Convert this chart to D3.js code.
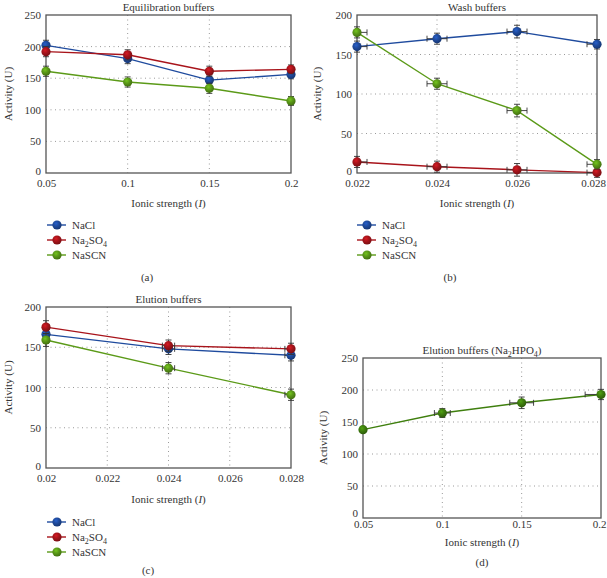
<!DOCTYPE html>
<meta charset="utf-8">
<style>
body { margin: 0; background: #fff; }
svg text { font-family: "Liberation Serif", "DejaVu Serif", serif; font-weight: normal; }
.tick line { display: none; }
.domain { display: none; }
.grid line { stroke: #9a9a9a; stroke-dasharray: 1,3.5; stroke-width: 1; }
</style>
<body>
<svg width="607" height="578"></svg>
<script src="https://d3js.org/d3.v7.min.js"></script>
<script>
// ---- data ----
var seriesNames = ["NaCl", "Na2SO4", "NaSCN"];

// (a) equilibration buffers
var eqX = [0.05, 0.1, 0.15, 0.2];
var eqNaCl = [202, 181, 147, 156];
var eqNa2SO4 = [192, 187, 161, 164];
var eqNaSCN = [161, 144, 134, 114];
var eqErr = [8, 8, 8, 7];
var eqXTicks = ["0.05", "0.1", "0.15", "0.2"];

// (b) wash buffers
var washX = [0.022, 0.024, 0.026, 0.028];
var washNaCl = [160, 170, 179, 163];
var washNa2SO4 = [14, 8, 4, 0.5];
var washNaSCN = [178, 113, 79, 11];
var washErr = [7, 7, 8, 6];
var washXErr = [0.00025, 0.00025, 0.00025, 0.00025];
var washXTicks = ["0.022", "0.024", "0.026", "0.028"];

// (c) elution buffers
var eluX = [0.02, 0.024, 0.028];
var eluNaCl = [166, 148, 140];
var eluNa2SO4 = [175, 152, 148];
var eluNaSCN = [159, 124, 91];
var eluErr = [8, 7, 7];
var eluXErr = [0.0001, 0.0002, 0.0002];
var eluXTicks = ["0.02", "0.022", "0.024", "0.026", "0.028"];

// (d) elution buffers Na2HPO4
var hpoX = [0.05, 0.1, 0.15, 0.2];
var hpoVals = [138, 164, 180, 193];
var hpoErr = [4, 7, 9, 8];
var hpoXErr = [0, 0.005, 0.0075, 0.01];
var hpoXTicks = ["0.05", "0.1", "0.15", "0.2"];

var colors = {NaCl: "#1f4b9e", Na2SO4: "#a8141b", NaSCN: "#5b9a18", HPO: "#3f7f0e"};
var FONT = "Liberation Serif, DejaVu Serif, serif";
var INK = "#333";

var svg = d3.select("svg");

// shaded ball gradients
var defs = svg.append("defs");
Object.keys(colors).forEach(function(k) {
  var g = defs.append("radialGradient").attr("id", "ball" + k)
    .attr("cx", "40%").attr("cy", "35%").attr("r", "65%");
  g.append("stop").attr("offset", "0%").attr("stop-color", d3.color(colors[k]).brighter(0.7));
  g.append("stop").attr("offset", "45%").attr("stop-color", colors[k]);
  g.append("stop").attr("offset", "100%").attr("stop-color", d3.color(colors[k]).darker(0.9));
});

function nameText(sel, name) {
  if (name === "Na2SO4") {
    sel.append("tspan").text("Na");
    sel.append("tspan").text("2").attr("font-size", "8px").attr("dy", 3);
    sel.append("tspan").text("SO").attr("dy", -3);
    sel.append("tspan").text("4").attr("font-size", "8px").attr("dy", 3);
  } else {
    sel.text(name);
  }
}

function drawPanel(p) {
  var x = d3.scaleLinear().domain(p.xDomain).range([p.left, p.right]);
  var y = d3.scaleLinear().domain(p.yDomain).range([p.bottom, p.top]);
  var g = svg.append("g");

  var xt = p.xTicks.map(Number), yt = d3.range(p.yDomain[0], p.yDomain[1] + 1, 50);

  // grid
  var grid = g.append("g").attr("class", "grid");
  grid.selectAll(".gx").data(xt.slice(1, -1)).enter().append("line")
    .attr("x1", function(d) { return x(d); }).attr("x2", function(d) { return x(d); })
    .attr("y1", p.top).attr("y2", p.bottom);
  grid.selectAll(".gy").data(yt.slice(1, -1)).enter().append("line")
    .attr("y1", function(d) { return y(d); }).attr("y2", function(d) { return y(d); })
    .attr("x1", p.left).attr("x2", p.right);

  // axes
  var ax = g.append("g").attr("transform", "translate(0," + p.bottom + ")")
    .call(d3.axisBottom(x).tickValues(xt).tickSize(0).tickPadding(p.xPad)
      .tickFormat(function(d, i) { return p.xTicks[i]; }));
  ax.attr("font-family", FONT);
  ax.selectAll("text").attr("font-size", "11px").attr("fill", INK)
    .attr("dx", function(d, i) { return (i === xt.length - 1 && p.lastDx) ? p.lastDx : 0; });
  var ay = g.append("g").attr("transform", "translate(" + p.left + ",0)")
    .call(d3.axisLeft(y).tickValues(yt).tickSize(0).tickPadding(5));
  ay.attr("font-family", FONT);
  ay.selectAll("text").attr("font-size", "11px").attr("fill", INK)
    .attr("y", function(d) { return d === 0 ? p.zeroDy : 0; });

  g.append("rect").attr("x", p.left).attr("y", p.top)
    .attr("width", p.right - p.left).attr("height", p.bottom - p.top)
    .attr("fill", "none").attr("stroke", "#555").attr("stroke-width", 1.3);

  // titles
  var t = g.append("text").attr("x", (p.left + p.right) / 2).attr("y", p.top - 4)
    .attr("text-anchor", "middle").attr("font-size", "11px").attr("fill", INK);
  if (p.hpo) {
    t.append("tspan").text("Elution buffers (Na");
    t.append("tspan").text("2").attr("font-size", "8px").attr("dy", 3);
    t.append("tspan").text("HPO").attr("dy", -3);
    t.append("tspan").text("4").attr("font-size", "8px").attr("dy", 3);
    t.append("tspan").text(")").attr("dy", -3);
  } else t.text(p.title);

  var xl = g.append("text").attr("x", (p.left + p.right) / 2).attr("y", p.xlabelY)
    .attr("text-anchor", "middle").attr("font-size", "11px").attr("fill", INK);
  xl.append("tspan").text("Ionic strength (");
  xl.append("tspan").text("I").attr("font-style", "italic");
  xl.append("tspan").text(")");

  g.append("text").attr("transform", "translate(" + p.ylabelX + "," + ((p.top + p.bottom) / 2) + ") rotate(-90)")
    .attr("text-anchor", "middle").attr("font-size", "11px").attr("fill", INK)
    .text("Activity (U)");

  g.append("text").attr("x", p.label[0]).attr("y", p.label[1]).attr("text-anchor", "middle")
    .attr("font-size", "11px").attr("fill", INK).text(p.labelText);

  // series
  var line = d3.line().x(function(d) { return x(d.x); }).y(function(d) { return y(d.y); });
  p.series.forEach(function(s) {
    var pts = p.xs.map(function(v, i) {
      return {x: v, y: s.values[i], e: p.err[i], xe: p.xErr ? p.xErr[i] : 0};
    });
    var sg = g.append("g");
    sg.append("path").datum(pts).attr("d", line).attr("fill", "none")
      .attr("stroke", colors[s.key]).attr("stroke-width", 1.4);
    var eb = sg.selectAll(".eb").data(pts).enter().append("g").attr("stroke", "#333").attr("stroke-width", 0.9);
    eb.append("line").attr("x1", function(d) { return x(d.x); }).attr("x2", function(d) { return x(d.x); })
      .attr("y1", function(d) { return y(d.y - d.e); }).attr("y2", function(d) { return y(d.y + d.e); });
    eb.append("line").attr("x1", function(d) { return x(d.x) - 3; }).attr("x2", function(d) { return x(d.x) + 3; })
      .attr("y1", function(d) { return y(d.y + d.e); }).attr("y2", function(d) { return y(d.y + d.e); });
    eb.append("line").attr("x1", function(d) { return x(d.x) - 3; }).attr("x2", function(d) { return x(d.x) + 3; })
      .attr("y1", function(d) { return y(d.y - d.e); }).attr("y2", function(d) { return y(d.y - d.e); });
    var hx = eb.filter(function(d) { return d.xe > 0; });
    hx.append("line").attr("x1", function(d) { return Math.max(p.left, x(d.x - d.xe)); })
      .attr("x2", function(d) { return Math.min(p.right, x(d.x + d.xe)); })
      .attr("y1", function(d) { return y(d.y); }).attr("y2", function(d) { return y(d.y); });
    hx.filter(function(d) { return x(d.x - d.xe) >= p.left; }).append("line")
      .attr("x1", function(d) { return x(d.x - d.xe); }).attr("x2", function(d) { return x(d.x - d.xe); })
      .attr("y1", function(d) { return y(d.y) - 3; }).attr("y2", function(d) { return y(d.y) + 3; });
    hx.filter(function(d) { return x(d.x + d.xe) <= p.right; }).append("line")
      .attr("x1", function(d) { return x(d.x + d.xe); }).attr("x2", function(d) { return x(d.x + d.xe); })
      .attr("y1", function(d) { return y(d.y) - 3; }).attr("y2", function(d) { return y(d.y) + 3; });
    sg.selectAll("circle").data(pts).enter().append("circle")
      .attr("cx", function(d) { return x(d.x); }).attr("cy", function(d) { return y(d.y); })
      .attr("r", 4.6).attr("fill", "url(#ball" + s.key + ")");
  });

  // legend
  if (p.legend) {
    p.series.forEach(function(s, i) {
      var ly = p.legend[1] + p.legendStep[i];
      var lx = p.legend[0];
      g.append("line").attr("x1", lx).attr("x2", lx + 19).attr("y1", ly).attr("y2", ly)
        .attr("stroke", colors[s.key]).attr("stroke-width", 1.4);
      g.append("circle").attr("cx", lx + 10).attr("cy", ly).attr("r", 4.6)
        .attr("fill", "url(#ball" + s.key + ")");
      var tx = g.append("text").attr("x", lx + 25).attr("y", ly + 4)
        .attr("font-size", "11px").attr("fill", INK);
      nameText(tx, s.name);
    });
  }
}

function trio(a, b, c) {
  return [{key: "NaCl", name: seriesNames[0], values: a},
          {key: "Na2SO4", name: seriesNames[1], values: b},
          {key: "NaSCN", name: seriesNames[2], values: c}];
}

drawPanel({left: 46, right: 291, top: 15, bottom: 173, xDomain: [0.05, 0.2], yDomain: [0, 250],
  xTicks: eqXTicks, xs: eqX, err: eqErr, title: "Equilibration buffers", xPad: 6, zeroDy: -2,
  series: trio(eqNaCl, eqNa2SO4, eqNaSCN), xlabelY: 207, ylabelX: 12,
  legend: [47, 225], legendStep: [0, 15, 30], label: [147, 281], labelText: "(a)"});

drawPanel({left: 357, right: 597, top: 15, bottom: 173, xDomain: [0.022, 0.028], yDomain: [0, 200],
  xTicks: washXTicks, xs: washX, err: washErr, xErr: washXErr, title: "Wash buffers", lastDx: -4,
  xPad: 6, zeroDy: -2,
  series: trio(washNaCl, washNa2SO4, washNaSCN), xlabelY: 207, ylabelX: 321,
  legend: [357, 225], legendStep: [0, 15, 30], label: [450, 281], labelText: "(b)"});

drawPanel({left: 46, right: 291, top: 307, bottom: 468, xDomain: [0.02, 0.028], yDomain: [0, 200],
  xTicks: eluXTicks, xs: eluX, err: eluErr, xErr: eluXErr, title: "Elution buffers", xPad: 6, zeroDy: -2,
  series: trio(eluNaCl, eluNa2SO4, eluNaSCN), xlabelY: 503, ylabelX: 12,
  legend: [47, 522], legendStep: [0, 15, 30], label: [148, 574], labelText: "(c)"});

drawPanel({left: 363, right: 601, top: 358, bottom: 518, xDomain: [0.05, 0.2], yDomain: [0, 250],
  xTicks: hpoXTicks, xs: hpoX, err: hpoErr, xErr: hpoXErr, hpo: true, lastDx: -2, xPad: 2, zeroDy: -5,
  series: [{key: "HPO", name: "Na2HPO4", values: hpoVals}], xlabelY: 546, ylabelX: 327,
  label: [482, 566], labelText: "(d)"});
</script>
</body>
